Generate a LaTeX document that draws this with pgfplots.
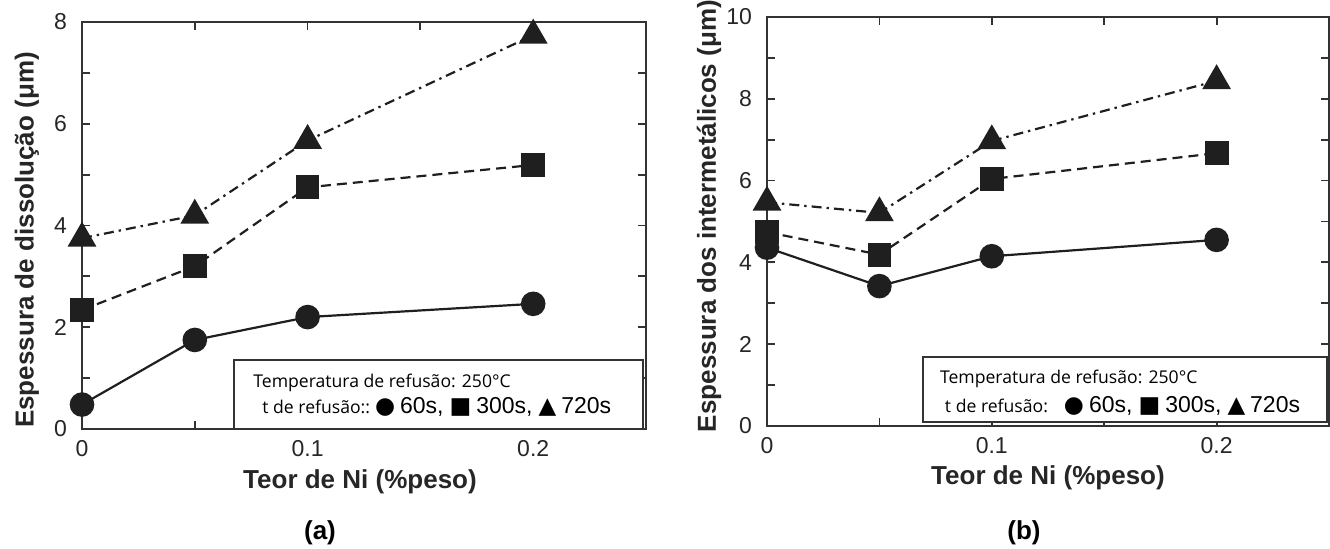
\documentclass[border=0pt]{standalone}
\usepackage{fontspec}
\setmainfont{Liberation Sans}
\newfontfamily\lgfont{Open Sans}
\newfontfamily\symfont{DejaVu Sans}
\usepackage{pgfplots}
\pgfplotsset{compat=1.18}

\newcommand{\lgtext}{\lgfont\fontsize{8.8}{10}\selectfont}
\newcommand{\lgnum}{\fontsize{11.5}{12}\selectfont}
\newcommand{\lgsym}{\symfont\fontsize{11.5}{12}\selectfont}
\newcommand{\lblfont}{\bfseries\fontsize{13}{15}\selectfont}

\pgfplotsset{
  panel/.style={
    scale only axis, anchor=south west,
    xmin=0, xmax=0.25,
    xtick={0,0.1,0.2}, xticklabels={0,0.1,0.2},
    minor xtick={0.05,0.15},
    tick align=inside, major tick length=4pt, minor tick length=4pt,
    axis line style={line width=1.3pt, black!80},
    every tick/.style={line width=0.9pt, black!80},
    tick label style={font=\fontsize{11.5}{13}\selectfont, black!85},
    /pgf/number format/assume math mode=true,
    xticklabel style={yshift=-2pt},
    yticklabel style={xshift=-4pt},
    clip=false,
  },
  s60/.style={black!88, line width=1.1pt, mark=*, mark size=5.6pt, mark options={solid}},
  s300/.style={black!88, line width=1.1pt, dash pattern=on 5pt off 3pt, mark=square*, mark size=5.4pt, mark options={solid}},
  s720/.style={black!88, line width=1.1pt, dash pattern=on 5pt off 2.5pt on 1.2pt off 2.5pt, mark=triangle*, mark size=7.2pt, mark options={solid}},
}

\begin{document}
\begin{tikzpicture}
\path[use as bounding box] (0,0) rectangle (665pt,274.5pt);

% (a) dissolution thickness
\begin{axis}[panel,
  at={(41pt,60pt)}, width=282pt, height=203.5pt,
  ymin=0, ymax=8, ytick={0,2,4,6,8}, minor ytick={1,3,5,7}]
\addplot[s60] coordinates {(0,0.48) (0.05,1.75) (0.1,2.20) (0.2,2.46)};
\addplot[s300] coordinates {(0,2.34) (0.05,3.20) (0.1,4.75) (0.2,5.19)};
\addplot[s720] coordinates {(0,3.75) (0.05,4.20) (0.1,5.67) (0.2,7.74)};
\draw[line width=1pt, black!80, fill=white] (axis cs:0.0674,0) rectangle (axis cs:0.2488,1.36);
\node[anchor=base west, inner sep=0, font=\lgtext] at (axis cs:0.0758,0.825) {Temperatura de refusão: 250°C};
\node[anchor=base west, inner sep=0] at (axis cs:0.0798,0.295)
  {{\lgtext t de refusão::}\hspace{2.5pt}{\lgsym ●}\hspace{2.5pt}{\lgnum 60s,}\hspace{3pt}{\lgsym ■}\hspace{2.5pt}{\lgnum 300s,}\hspace{3pt}{\lgsym ▲}\hspace{2.5pt}{\lgnum 720s}};
\end{axis}

% (b) intermetallic thickness
\begin{axis}[panel,
  at={(383.5pt,61.5pt)}, width=281pt, height=204.5pt,
  ymin=0, ymax=10, ytick={0,2,4,6,8,10}, minor ytick={1,3,5,7,9}]
\addplot[s60] coordinates {(0,4.36) (0.05,3.42) (0.1,4.15) (0.2,4.55)};
\addplot[s300] coordinates {(0,4.74) (0.05,4.19) (0.1,6.04) (0.2,6.67)};
\addplot[s720] coordinates {(0,5.47) (0.05,5.21) (0.1,6.97) (0.2,8.44)};
\draw[line width=1pt, black!80, fill=white] (axis cs:0.0693,0.1) rectangle (axis cs:0.249,1.69);
\node[anchor=base west, inner sep=0, font=\lgtext] at (axis cs:0.0768,1.05) {Temperatura de refusão: 250°C};
\node[anchor=base west, inner sep=0] at (axis cs:0.079,0.34)
  {{\lgtext t de refusão:}\hspace{8pt}{\lgsym ●}\hspace{2.5pt}{\lgnum 60s,}\hspace{3pt}{\lgsym ■}\hspace{2.5pt}{\lgnum 300s,}\hspace{3pt}{\lgsym ▲}\hspace{2.5pt}{\lgnum 720s}};
\end{axis}

% labels
\node[rotate=90, font=\lblfont, black!85] at (13.5pt,154.5pt) {Espessura de dissolução (μm)};
\node[rotate=90, font=\lblfont, black!85] at (354.5pt,166.5pt) {Espessura dos intermetálicos (μm)};
\node[font=\lblfont, black!85] at (180pt,33.5pt) {Teor de Ni (\%peso)};
\node[font=\lblfont, black!85] at (524pt,35.5pt) {Teor de Ni (\%peso)};
\node[font=\lblfont] at (160pt,8pt) {(a)};
\node[font=\lblfont] at (512pt,8pt) {(b)};
\end{tikzpicture}
\end{document}
